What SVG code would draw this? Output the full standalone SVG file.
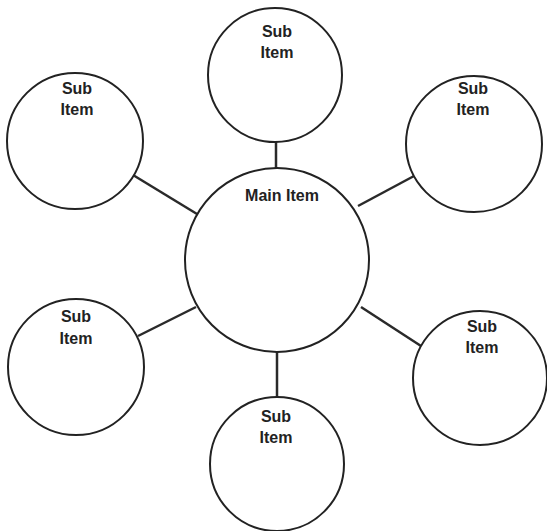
<svg xmlns="http://www.w3.org/2000/svg" width="547" height="531" viewBox="0 0 547 531">
<style>
.node{fill:#fff;stroke:#222;stroke-width:2}
.conn{stroke:#2a2a2a;stroke-width:2.5;fill:none}
text{font-family:"Liberation Sans",Arial,sans-serif;font-weight:bold;font-size:16px;fill:#222;text-anchor:middle}
</style>
<rect width="547" height="531" fill="#fff"/>
<g id="connectors">
<line class="conn" x1="276" y1="142" x2="276" y2="168"/>
<line class="conn" x1="133" y1="175" x2="197" y2="214"/>
<line class="conn" x1="414" y1="176" x2="358" y2="206"/>
<line class="conn" x1="138" y1="336" x2="196" y2="307"/>
<line class="conn" x1="361" y1="307" x2="421" y2="346"/>
<line class="conn" x1="277" y1="352" x2="277" y2="397"/>
</g>
<g id="main">
<circle class="node" cx="277" cy="260" r="92"/>
<text x="282" y="201">Main Item</text>
</g>
<g id="sub-top">
<circle class="node" cx="275" cy="75" r="67"/>
<text x="277" y="37">Sub</text>
<text x="277" y="58">Item</text>
</g>
<g id="sub-top-left">
<circle class="node" cx="75" cy="141" r="68"/>
<text x="77" y="94">Sub</text>
<text x="77" y="115">Item</text>
</g>
<g id="sub-top-right">
<circle class="node" cx="474" cy="144" r="68"/>
<text x="473" y="94">Sub</text>
<text x="473" y="115">Item</text>
</g>
<g id="sub-bottom-left">
<circle class="node" cx="76" cy="367" r="68"/>
<text x="76" y="322">Sub</text>
<text x="76" y="344">Item</text>
</g>
<g id="sub-bottom-right">
<circle class="node" cx="480" cy="378" r="67"/>
<text x="482" y="332">Sub</text>
<text x="482" y="353">Item</text>
</g>
<g id="sub-bottom">
<circle class="node" cx="277" cy="464" r="67"/>
<text x="276" y="422">Sub</text>
<text x="276" y="443">Item</text>
</g>
</svg>
